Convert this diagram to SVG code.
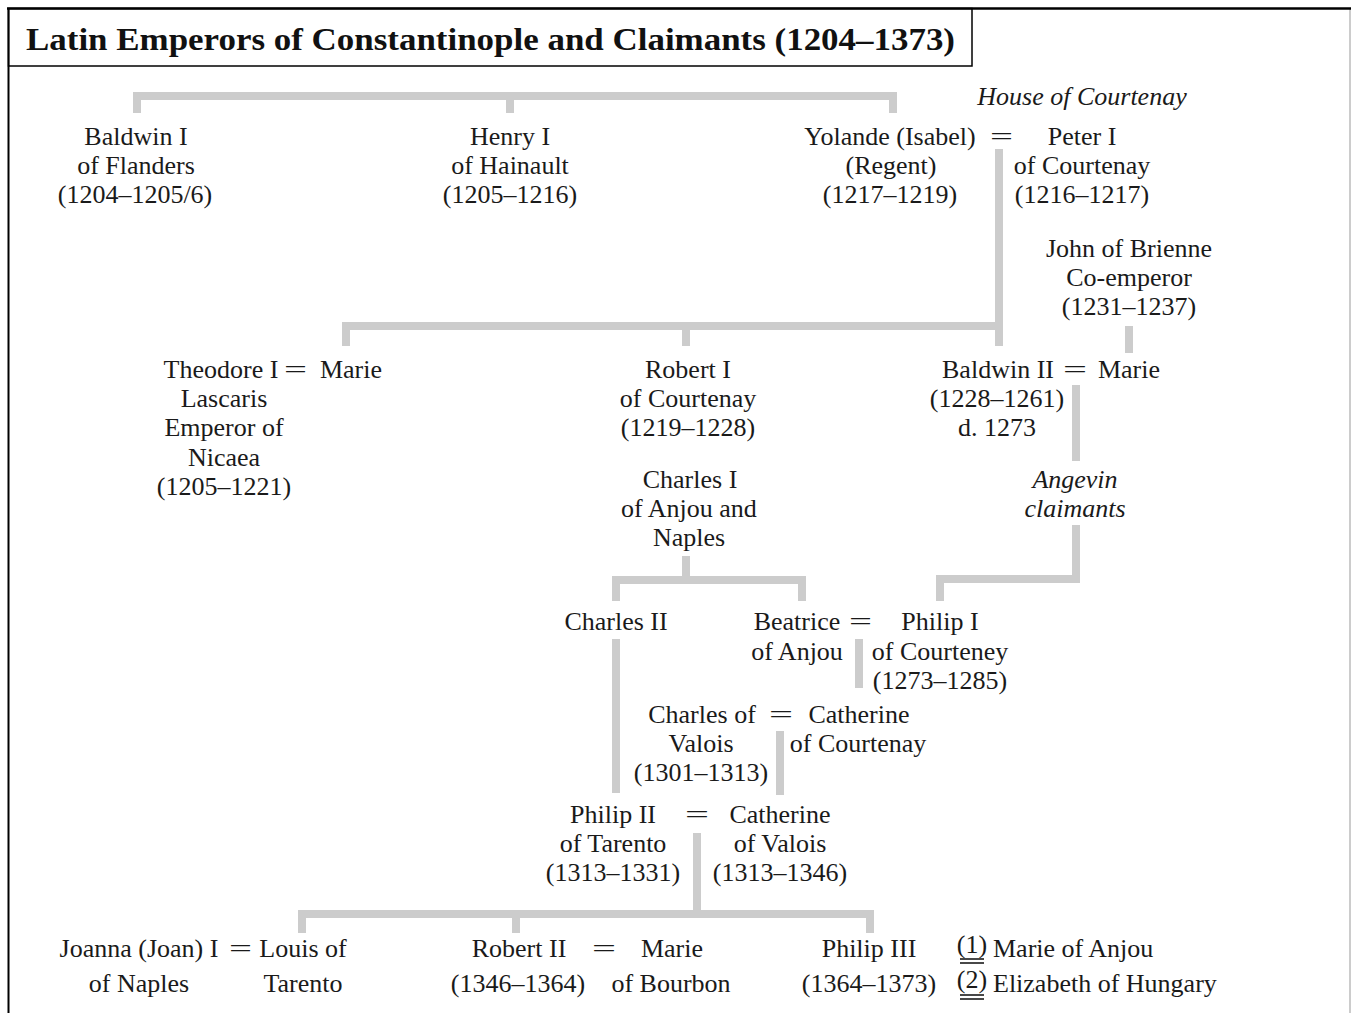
<svg xmlns="http://www.w3.org/2000/svg" width="1351" height="1013" viewBox="0 0 1351 1013">
<style>
.t{font-family:"Liberation Serif","Times New Roman",serif;font-size:26px;fill:#1a1a1a;text-anchor:middle}
.s{text-anchor:start}
.i{font-style:italic}
.eq{font-family:"Liberation Serif",serif;font-size:26px;fill:#1a1a1a}
.c{fill:none;stroke:#cccccc;stroke-width:8;stroke-linejoin:miter;stroke-linecap:butt}
.u{stroke:#1a1a1a;stroke-width:1.6}
</style>
<rect x="0" y="0" width="1351" height="1013" fill="#ffffff"/>
<g id="frame">
<line x1="1350" y1="8" x2="1350" y2="1013" stroke="#cccccc" stroke-width="2"/>
<line x1="7" y1="8.5" x2="1351" y2="8.5" stroke="#000" stroke-width="2.5"/>
<line x1="8.5" y1="8" x2="8.5" y2="1013" stroke="#000" stroke-width="2"/>
<rect x="8.5" y="8.5" width="963.5" height="57.5" fill="none" stroke="#000" stroke-width="1.5"/>
<text x="26" y="50" font-family="Liberation Serif,serif" font-size="31" font-weight="bold" fill="#111" textLength="929" lengthAdjust="spacingAndGlyphs">Latin Emperors of Constantinople and Claimants (1204–1373)</text>
</g>
<g id="connectors">
<path class="c" d="M137 113 V96 H893 V113"/>
<path class="c" d="M510 96 V113"/>
<path class="c" d="M999 149 V346"/>
<path class="c" d="M346 346 V326 H1003"/>
<path class="c" d="M686 326 V346"/>
<path class="c" d="M1129 326 V353"/>
<path class="c" d="M1076 385 V461"/>
<path class="c" d="M1076 525 V579 H940 V601"/>
<path class="c" d="M686 556 V580"/>
<path class="c" d="M616 601 V580 H802 V601"/>
<path class="c" d="M616 639 V793"/>
<path class="c" d="M859 639 V688"/>
<path class="c" d="M780 731 V795"/>
<path class="c" d="M697 833 V914"/>
<path class="c" d="M302 933 V914 H870 V933"/>
<path class="c" d="M516 914 V933"/>
</g>
<g id="marriages">
<text class="eq" x="990" y="145" textLength="23" lengthAdjust="spacingAndGlyphs">=</text>
<text class="eq" x="284" y="378" textLength="23" lengthAdjust="spacingAndGlyphs">=</text>
<text class="eq" x="1063" y="378" textLength="24" lengthAdjust="spacingAndGlyphs">=</text>
<text class="eq" x="849" y="630" textLength="23" lengthAdjust="spacingAndGlyphs">=</text>
<text class="eq" x="769" y="723" textLength="24" lengthAdjust="spacingAndGlyphs">=</text>
<text class="eq" x="685" y="823" textLength="24" lengthAdjust="spacingAndGlyphs">=</text>
<text class="eq" x="229" y="957" textLength="23" lengthAdjust="spacingAndGlyphs">=</text>
<text class="eq" x="592" y="957" textLength="24" lengthAdjust="spacingAndGlyphs">=</text>
</g>
<g id="house-courtenay"><text class="t i" x="1082" y="105">House of Courtenay</text></g>
<g id="baldwin-i">
<text class="t" x="136" y="145">Baldwin I</text>
<text class="t" x="136" y="174">of Flanders</text>
<text class="t" x="135" y="203">(1204–1205/6)</text>
</g>
<g id="henry-i">
<text class="t" x="510" y="145">Henry I</text>
<text class="t" x="510" y="174">of Hainault</text>
<text class="t" x="510" y="203">(1205–1216)</text>
</g>
<g id="yolande">
<text class="t" x="890" y="145">Yolande (Isabel)</text>
<text class="t" x="891" y="174">(Regent)</text>
<text class="t" x="890" y="203">(1217–1219)</text>
</g>
<g id="peter-i">
<text class="t" x="1082" y="145">Peter I</text>
<text class="t" x="1082" y="174">of Courtenay</text>
<text class="t" x="1082" y="203">(1216–1217)</text>
</g>
<g id="john-brienne">
<text class="t" x="1129" y="257">John of Brienne</text>
<text class="t" x="1129" y="286">Co-emperor</text>
<text class="t" x="1129" y="315">(1231–1237)</text>
</g>
<g id="theodore-i">
<text class="t" x="221" y="378">Theodore I</text>
<text class="t" x="224" y="407">Lascaris</text>
<text class="t" x="224" y="436">Emperor of</text>
<text class="t" x="224" y="466">Nicaea</text>
<text class="t" x="224" y="495">(1205–1221)</text>
</g>
<g id="marie-1"><text class="t" x="351" y="378">Marie</text></g>
<g id="robert-i">
<text class="t" x="688" y="378">Robert I</text>
<text class="t" x="688" y="407">of Courtenay</text>
<text class="t" x="688" y="436">(1219–1228)</text>
</g>
<g id="baldwin-ii">
<text class="t" x="998" y="378">Baldwin II</text>
<text class="t" x="997" y="407">(1228–1261)</text>
<text class="t" x="997" y="436">d. 1273</text>
</g>
<g id="marie-2"><text class="t" x="1129" y="378">Marie</text></g>
<g id="angevin">
<text class="t i" x="1075" y="488">Angevin</text>
<text class="t i" x="1075" y="517">claimants</text>
</g>
<g id="charles-i">
<text class="t" x="690" y="488">Charles I</text>
<text class="t" x="689" y="517">of Anjou and</text>
<text class="t" x="689" y="546">Naples</text>
</g>
<g id="charles-ii"><text class="t" x="616" y="630">Charles II</text></g>
<g id="beatrice">
<text class="t" x="797" y="630">Beatrice</text>
<text class="t" x="797" y="660">of Anjou</text>
</g>
<g id="philip-i">
<text class="t" x="940" y="630">Philip I</text>
<text class="t" x="940" y="660">of Courteney</text>
<text class="t" x="940" y="689">(1273–1285)</text>
</g>
<g id="charles-valois">
<text class="t" x="702" y="723">Charles of</text>
<text class="t" x="701" y="752">Valois</text>
<text class="t" x="701" y="781">(1301–1313)</text>
</g>
<g id="catherine-courtenay">
<text class="t" x="859" y="723">Catherine</text>
<text class="t" x="858" y="752">of Courtenay</text>
</g>
<g id="philip-ii">
<text class="t" x="613" y="823">Philip II</text>
<text class="t" x="613" y="852">of Tarento</text>
<text class="t" x="613" y="881">(1313–1331)</text>
</g>
<g id="catherine-valois">
<text class="t" x="780" y="823">Catherine</text>
<text class="t" x="780" y="852">of Valois</text>
<text class="t" x="780" y="881">(1313–1346)</text>
</g>
<g id="joanna">
<text class="t" x="139" y="957">Joanna (Joan) I</text>
<text class="t" x="139" y="992">of Naples</text>
</g>
<g id="louis">
<text class="t" x="303" y="957">Louis of</text>
<text class="t" x="303" y="992">Tarento</text>
</g>
<g id="robert-ii">
<text class="t" x="519" y="957">Robert II</text>
<text class="t" x="518" y="992">(1346–1364)</text>
</g>
<g id="marie-bourbon">
<text class="t" x="672" y="957">Marie</text>
<text class="t" x="671" y="992">of Bourbon</text>
</g>
<g id="philip-iii">
<text class="t" x="869" y="957">Philip III</text>
<text class="t" x="869" y="992">(1364–1373)</text>
</g>
<g id="philip-iii-wives">
<text class="t" x="972" y="953">(1)</text>
<line class="u" x1="960" y1="959" x2="984" y2="959"/>
<line class="u" x1="960" y1="963" x2="984" y2="963"/>
<text class="t s" x="993" y="957">Marie of Anjou</text>
<text class="t" x="972" y="988">(2)</text>
<line class="u" x1="960" y1="995" x2="984" y2="995"/>
<line class="u" x1="960" y1="999" x2="984" y2="999"/>
<text class="t s" x="993" y="992">Elizabeth of Hungary</text>
</g>
</svg>
